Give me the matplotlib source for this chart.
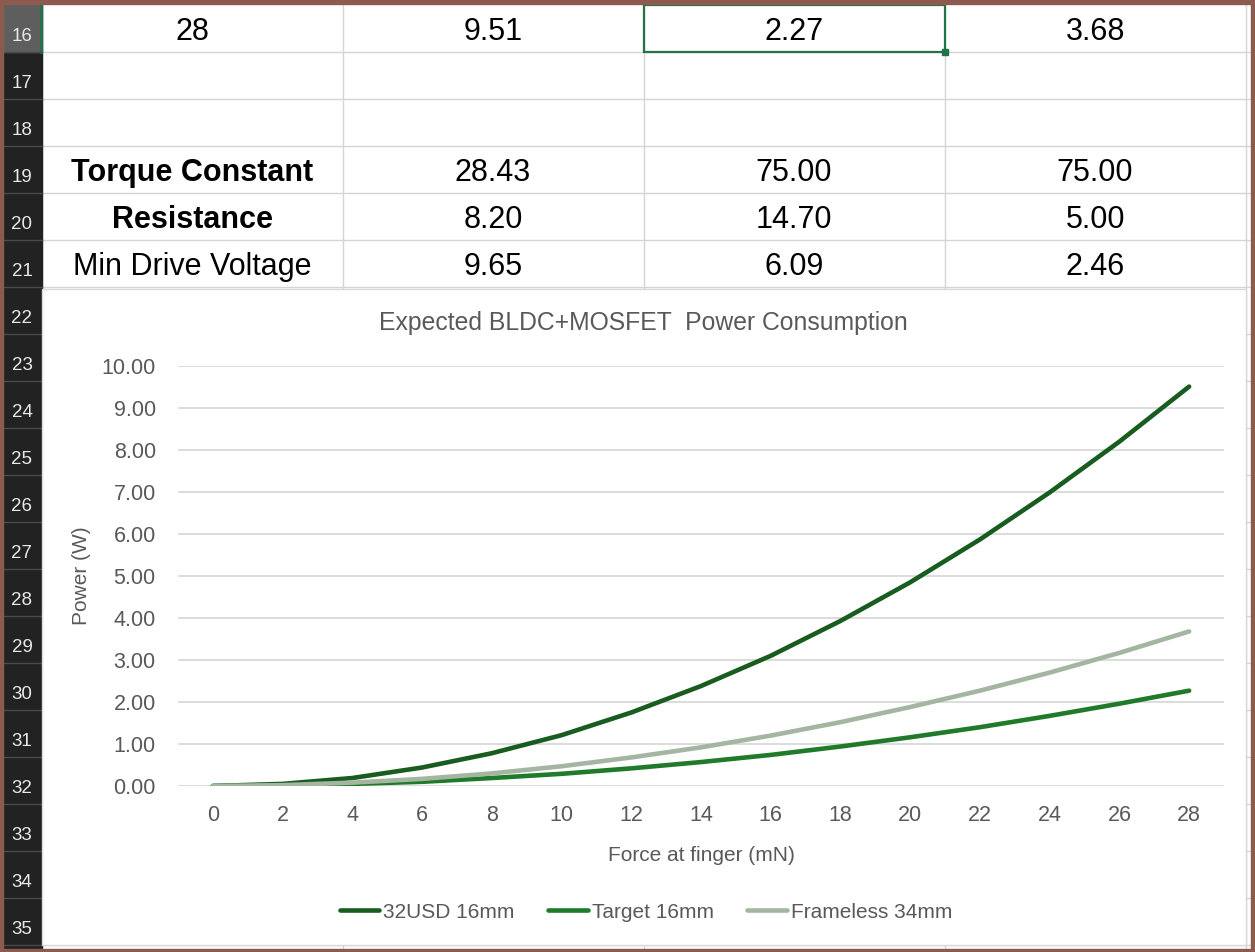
import matplotlib
matplotlib.use("Agg")
import matplotlib.pyplot as plt
from matplotlib.patches import Rectangle
from matplotlib.lines import Line2D

plt.rcParams['font.family'] = ['Liberation Sans', 'DejaVu Sans']

# chart data
force = [0, 2, 4, 6, 8, 10, 12, 14, 16, 18, 20, 22, 24, 26, 28]
p_32usd = [0.00, 0.05, 0.19, 0.44, 0.78, 1.21, 1.75, 2.38, 3.10, 3.93, 4.85, 5.87, 6.99, 8.20, 9.51]
p_target = [0.00, 0.01, 0.05, 0.10, 0.19, 0.29, 0.42, 0.57, 0.74, 0.94, 1.16, 1.40, 1.67, 1.96, 2.27]
p_frameless = [0.00, 0.02, 0.08, 0.17, 0.30, 0.47, 0.68, 0.92, 1.20, 1.52, 1.88, 2.27, 2.70, 3.17, 3.68]
series_names = ["32USD 16mm", "Target 16mm", "Frameless 34mm"]
series_colors = ["#185c1f", "#1f7a2a", "#a4b6a2"]

# sheet cells above the chart
param_names = ["Torque Constant", "Resistance", "Min Drive Voltage"]
param_bold = [True, True, False]
torque_const = [28.43, 75.00, 75.00]
resistance = [8.20, 14.70, 5.00]
min_voltage = [9.65, 6.09, 2.46]
row_numbers = list(range(16, 36))

W, H = 1255, 952
fig = plt.figure(figsize=(W / 100, H / 100), dpi=100)

# background axes in pixel units for the spreadsheet
bg = fig.add_axes([0, 0, 1, 1])
bg.set_xlim(0, W)
bg.set_ylim(H, 0)
bg.axis('off')

row_top = 4.7
row_h = 47.0
col_x = [42, 342.6, 643.5, 944.7, 1245.5]
col_mid = [(col_x[i] + col_x[i + 1]) / 2 for i in range(4)]

def row_bottom(r):
    return row_top + (r - 15) * row_h

# cell grid
for r in row_numbers:
    bg.plot([42, 1251], [row_bottom(r)] * 2, color='#d4d4d4', lw=1, zorder=1)
for x in col_x:
    bg.plot([x, x], [0, H], color='#d4d4d4', lw=1, zorder=1)

# row headers
bg.add_patch(Rectangle((0, 0), 42, H, color='#222222', zorder=2))
bg.add_patch(Rectangle((0, row_top), 42, row_h, color='#5e5e5e', zorder=2))
bg.plot([41, 41], [row_top, row_bottom(16)], color='#217346', lw=2, zorder=3)
for r in row_numbers:
    bg.plot([0, 42], [row_bottom(r)] * 2, color='#4a4a4a', lw=1, zorder=3)
    bg.text(22, row_bottom(r) - 11, str(r), ha='center', va='baseline',
            fontsize=13.5, color='#e8e8e8', zorder=4)

# row 16: last point of each series
row16 = ["28", f"{p_32usd[-1]:.2f}", f"{p_target[-1]:.2f}", f"{p_frameless[-1]:.2f}"]
for i, s in enumerate(row16):
    bg.text(col_mid[i], row_bottom(16) - 11.5, s, ha='center', va='baseline',
            fontsize=22, color='black', zorder=4)

param_rows = [torque_const, resistance, min_voltage]
for k, (name, vals) in enumerate(zip(param_names, param_rows)):
    y = row_bottom(19 + k) - 11.5
    bg.text(col_mid[0], y, name, ha='center', va='baseline', fontsize=22,
            fontweight='bold' if param_bold[k] else 'normal', color='black', zorder=4)
    for i, v in enumerate(vals):
        bg.text(col_mid[i + 1], y, f"{v:.2f}", ha='center', va='baseline',
                fontsize=22, color='black', zorder=4)

# selected cell
bg.add_patch(Rectangle((col_x[2], row_top), col_x[3] - col_x[2], row_h, fill=False,
                       edgecolor='#217346', lw=1.6, zorder=5))
bg.add_patch(Rectangle((col_x[3] - 3, row_bottom(16) - 3), 6, 6, color='#217346', zorder=6))

# chart frame
bg.add_patch(Rectangle((42, 289), 1204, 656, facecolor='white', edgecolor='#d9d9d9',
                       lw=1, zorder=7))

# window border
brown = '#8c5a4f'
bg.add_patch(Rectangle((0, 0), W, 3.5, color=brown, zorder=10))
bg.add_patch(Rectangle((0, 0), 3, H, color=brown, zorder=10))
bg.add_patch(Rectangle((1251, 0), 4, H, color=brown, zorder=10))
bg.add_patch(Rectangle((0, 949), W, 3, color=brown, zorder=10))

# the chart itself
px0, px1, py0, py1 = 178, 1224, 366, 786
ax = fig.add_axes([px0 / W, 1 - py1 / H, (px1 - px0) / W, (py1 - py0) / H])
ax.patch.set_alpha(0)
for name, vals, c in zip(series_names, [p_32usd, p_target, p_frameless], series_colors):
    ax.plot(force, vals, color=c, lw=3.3, solid_capstyle='round', label=name)

ax.set_xlim(-1, 29)
ax.set_ylim(0, 10)
ax.set_xticks(force)
ax.set_yticks(range(0, 11))
ax.set_yticklabels([f"{v:.2f}" for v in range(0, 11)])
ax.yaxis.grid(True, color='#d9d9d9', lw=1.3)
ax.set_axisbelow(True)
for sp in ax.spines.values():
    sp.set_visible(False)
ax.tick_params(axis='both', length=0, labelsize=15.5, labelcolor='#595959')
ax.tick_params(axis='y', pad=16)
ax.tick_params(axis='x', pad=14)

ax.set_title("Expected BLDC+MOSFET  Power Consumption", fontsize=17.8, color='#595959', pad=26)
ax.title.set_x((643 - px0) / (px1 - px0))
ax.set_xlabel("Force at finger (mN)", fontsize=15, color='#595959', va='baseline')
ax.xaxis.set_label_coords(0.5, -(861 - py1) / (py1 - py0))
ax.set_ylabel("Power (W)", fontsize=15, color='#595959', va='center')
ax.yaxis.set_label_coords((81 - px0) / (px1 - px0), 0.5)

handles = [Line2D([], [], color=c, lw=3.3, solid_capstyle='round') for c in series_colors]
leg = fig.legend(handles, series_names, loc='center', bbox_to_anchor=(646 / W, 1 - 912 / H),
                 ncol=3, frameon=False, fontsize=15, handlelength=1.9, handletextpad=0.2,
                 columnspacing=1.6)
for t in leg.get_texts():
    t.set_color('#595959')

fig.savefig("out.png", dpi=100)
